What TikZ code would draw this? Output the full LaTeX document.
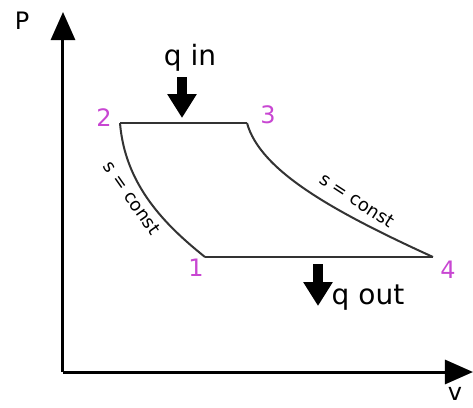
\documentclass[tikz,border=0pt]{standalone}
\usepackage{fontspec}
\setmainfont{DejaVu Sans}
\usetikzlibrary{arrows.meta}
\definecolor{statecol}{RGB}{200,70,210}
\begin{document}
\begin{tikzpicture}[x=0.5pt,y=-0.5pt,
	axis/.style={line width=1.5pt,-{Triangle[length=14pt,width=12pt]}},
	heat/.style={line width=5pt,-{Triangle[length=12pt,width=14pt]}},
	cycle line/.style={line width=1pt,black!80},
	state/.style={text=statecol,font=\fontsize{12}{12}\selectfont,inner sep=1pt},
	heatlabel/.style={font=\fontsize{14}{14}\selectfont,inner sep=1pt},
	isentrope/.style={font=\fontsize{9}{9}\selectfont,inner sep=1pt}]
	\useasboundingbox (0,0) rectangle (473,408);
	% axes
	\coordinate (O) at (63,372);
	\coordinate (ytip) at (63,12);
	\coordinate (xtip) at (473,372);
	\draw[axis] (O) -- (ytip);
	\draw[axis] (O) -- (xtip);
	\node[font=\fontsize{12}{12}\selectfont] (plabel) at (22,21) {P};
	\node[font=\fontsize{12}{12}\selectfont] (vlabel) at (455,394) {v};
	% states
	\coordinate (s1) at (205,257);
	\coordinate (s2) at (120,123);
	\coordinate (s3) at (247,123);
	\coordinate (s4) at (433,257);
	\node[state] (n1) at (196,268) {1};
	\node[state] (n2) at (104,118) {2};
	\node[state] (n3) at (268,115) {3};
	\node[state] (n4) at (448,270) {4};
	% cycle
	\draw[cycle line] (s2) -- (s3);
	\draw[cycle line] (s1) -- (s4);
	\draw[cycle line] (s2) .. controls (125,185) and (165,225) .. (s1);
	\draw[cycle line] (s3) .. controls (260,170) and (330,210) .. (s4);
	\node[isentrope,rotate=-55] (isen21) at (132,198) {s = const};
	\node[isentrope,rotate=-33] (isen34) at (357,200) {s = const};
	% heat
	\node[heatlabel] (qin) at (190,58) {q in};
	\coordinate (qintop) at (182,77);
	\coordinate (qinend) at (182,118);
	\draw[heat] (qintop) -- (qinend);
	\node[heatlabel] (qout) at (368,298) {q out};
	\coordinate (qouttop) at (318,264);
	\coordinate (qoutend) at (318,306);
	\draw[heat] (qouttop) -- (qoutend);
\end{tikzpicture}
\end{document}
